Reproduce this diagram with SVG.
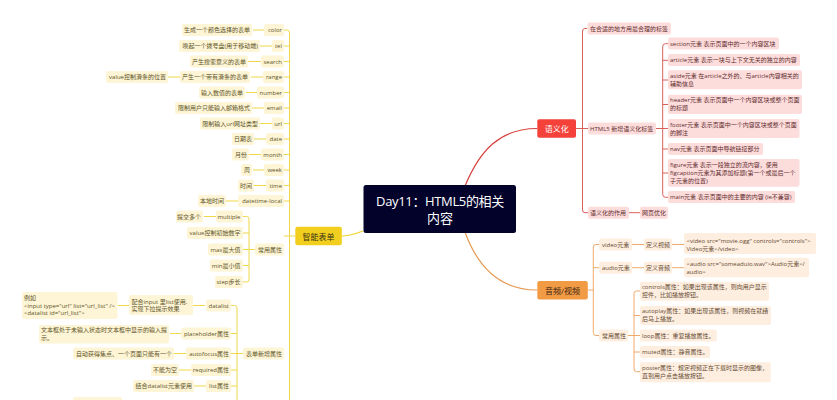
<svg xmlns="http://www.w3.org/2000/svg" width="837" height="400" viewBox="0 0 837 400">
<style>
text{font-family:"Open Sans","Noto Sans CJK SC",sans-serif;font-size:6px;dominant-baseline:central}
.e{text-anchor:end}
.c{text-anchor:middle}
.y rect{fill:#fdf5d6}.y text{fill:#5e5426}
.r rect{fill:#fddcdc}.r text{fill:#5e2c2c}
.o rect{fill:#fdeee0}.o text{fill:#664a30}
.lines path{fill:none;stroke-width:1}
.ly path{stroke:#f0d84a}.lr path{stroke:#d9605a}.lo path{stroke:#eeaa6c}
.m text{font-size:8px}
</style>
<g class="lines">
<path d="M465 186C480 150 500 128.500 537 128.500" style="stroke:#d8403c;stroke-width:1.2"/>
<path d="M465 232C478 268 500 290 537 290" style="stroke:#e69a52;stroke-width:1.2"/>
<path d="M363 231C355 234 349 236 342 236" style="stroke:#f0d22a;stroke-width:1.2"/>
<g class="ly">
<path d="M284 30H287Q289.500 30 289.500 32.500V400M295 236H284M284 46H289M284 61.500H289M284 77H289M284 92.500H289M284 108H289M284 123.500H289M284 139H289M284 154.500H289M284 170H289M284 185.500H289M284 201H289"/>
<path d="M253 30H264M260 46H272M248 61.500H261M251 77H263M168 77H180M246 92.500H257M252 108H264M260 123.500H272M254 139H266M249 154.500H261M253 170H264M254 185.500H266M226 201H238"/>
<path d="M243 216.500H246.500Q249 216.500 249 219V279.500Q249 282 246.500 282H243M243 233H249M243 249.500H255M243 265.500H249M204 216.500H216"/>
<path d="M231 305.500H234.500Q237 305.500 237 308V400M231 333.500H237M231 353.500H243M231 370H237M231 386H237M193 305.500H205M118 305.500H129M170 333.500H181M174 353.500H186M179 370H191M194 386H206"/>
</g>
<g class="lr">
<path d="M576 128.500H588M587 28.500H585Q582.500 28.500 582.500 31V210Q582.500 212.700 585 212.700H588M629 212.700H640"/>
<path d="M656 128.500H668M668 43.700H665.500Q662.700 43.700 662.700 46.500V194.500Q662.700 197.300 665.500 197.300H668M662.700 60.300H668M662.700 80H668M662.700 104.500H668M662.700 149H668M662.700 173H668"/>
</g>
<g class="lo">
<path d="M588 290H593.300M599 244.500H596Q593.300 244.500 593.300 247V332.500Q593.300 335.500 596 335.500H599M593.300 267.700H599M632 244.500H644M632 267.700H644M672 244.500H684M672 267.700H684"/>
<path d="M628 335.500H640M640 291H636.500Q634 291 634 293.500V369Q634 371.700 636.500 371.700H640M634 315.500H640M634 352H640"/>
</g>
</g>
<g id="root"><rect x="363.500" y="185" width="152.500" height="48" rx="2.500" fill="#02022b"/><text class="c" x="440" y="200.500" fill="#fff" style="font-size:13px;letter-spacing:-.35px">Day11：HTML5的相关</text><text class="c" x="440" y="218.300" fill="#fff" style="font-size:13px">内容</text></g>
<g id="main-form" class="m"><rect x="295.300" y="226.700" width="46.500" height="18.500" rx="2" fill="#f2cf1f"/><text class="c" x="318.500" y="236" fill="#3a3210">智能表单</text></g>
<g id="main-sem" class="m"><rect x="537.300" y="119.300" width="38.700" height="18.500" rx="2" fill="#f4423b"/><text class="c" x="556.700" y="128.500" fill="#fff">语义化</text></g>
<g id="main-av" class="m"><rect x="537.300" y="281" width="50.500" height="18.500" rx="2" fill="#f29b45"/><text class="c" x="562.500" y="290" fill="#3a2410">音频/视频</text></g>
<g class="y">
<g id="color"><rect x="264" y="24" width="20" height="12" rx="2"/><text class="e" x="282" y="30">color</text></g>
<g id="color-d"><rect x="182" y="24" width="70" height="12" rx="2"/><text class="e" x="250" y="30">生成一个颜色选择的表单</text></g>
<g id="tel"><rect x="272" y="40" width="12" height="12" rx="2"/><text class="e" x="282" y="46">tel</text></g>
<g id="tel-d"><rect x="179" y="40" width="81" height="12" rx="2"/><text class="e" x="258" y="46">唤起一个拨号盘(用于移动端)</text></g>
<g id="search"><rect x="261" y="55.500" width="23" height="12" rx="2"/><text class="e" x="282" y="61.500">search</text></g>
<g id="search-d"><rect x="190" y="55.500" width="58" height="12" rx="2"/><text class="e" x="246" y="61.500">产生搜索意义的表单</text></g>
<g id="range"><rect x="263" y="71" width="21" height="12" rx="2"/><text class="e" x="282" y="77">range</text></g>
<g id="range-d"><rect x="180" y="71" width="70" height="12" rx="2"/><text class="e" x="248" y="77">产生一个带有滑条的表单</text></g>
<g id="range-v"><rect x="106" y="71" width="62" height="12" rx="2"/><text class="e" x="166" y="77">value控制滑条的位置</text></g>
<g id="number"><rect x="257" y="86.500" width="27" height="12" rx="2"/><text class="e" x="282" y="92.500">number</text></g>
<g id="number-d"><rect x="199" y="86.500" width="46" height="12" rx="2"/><text class="e" x="243" y="92.500">输入数值的表单</text></g>
<g id="email"><rect x="264" y="102" width="20" height="12" rx="2"/><text class="e" x="282" y="108">email</text></g>
<g id="email-d"><rect x="175" y="102" width="77" height="12" rx="2"/><text class="e" x="250" y="108">限制用户只能输入邮箱格式</text></g>
<g id="url"><rect x="272" y="117.500" width="12" height="12" rx="2"/><text class="e" x="282" y="123.500">url</text></g>
<g id="url-d"><rect x="200" y="117.500" width="60" height="12" rx="2"/><text class="e" x="258" y="123.500">限制输入url网址类型</text></g>
<g id="date"><rect x="266" y="133" width="18" height="12" rx="2"/><text class="e" x="282" y="139">date</text></g>
<g id="date-d"><rect x="232" y="133" width="22" height="12" rx="2"/><text class="e" x="252" y="139">日期表</text></g>
<g id="month"><rect x="261" y="148.500" width="23" height="12" rx="2"/><text class="e" x="282" y="154.500">month</text></g>
<g id="month-d"><rect x="232" y="148.500" width="17" height="12" rx="2"/><text class="e" x="247" y="154.500">月份</text></g>
<g id="week"><rect x="264" y="164" width="20" height="12" rx="2"/><text class="e" x="282" y="170">week</text></g>
<g id="week-d"><rect x="241" y="164" width="11" height="12" rx="2"/><text class="e" x="250" y="170">周</text></g>
<g id="time"><rect x="266" y="179.500" width="18" height="12" rx="2"/><text class="e" x="282" y="185.500">time</text></g>
<g id="time-d"><rect x="238" y="179.500" width="16" height="12" rx="2"/><text class="e" x="252" y="185.500">时间</text></g>
<g id="dtl"><rect x="238" y="195" width="46" height="12" rx="2"/><text class="e" x="282" y="201">datetime-local</text></g>
<g id="dtl-d"><rect x="198" y="195" width="28" height="12" rx="2"/><text class="e" x="224" y="201">本地时间</text></g>
<g id="common"><rect x="255" y="243.500" width="29" height="12" rx="2"/><text class="e" x="282" y="249.500">常用属性</text></g>
<g id="multiple"><rect x="216" y="210.500" width="27" height="12" rx="2"/><text class="e" x="240.500" y="216.500">multiple</text></g>
<g id="multiple-d"><rect x="176" y="210.500" width="27" height="12" rx="2"/><text class="e" x="201" y="216.500">提交多个</text></g>
<g id="value"><rect x="187" y="227" width="56" height="12" rx="2"/><text class="e" x="240.500" y="233">value控制初始数字</text></g>
<g id="max"><rect x="208" y="243.500" width="35" height="12" rx="2"/><text class="e" x="240.500" y="249.500">max最大值</text></g>
<g id="min"><rect x="210" y="259.500" width="33" height="12" rx="2"/><text class="e" x="240.500" y="265.500">min最小值</text></g>
<g id="step"><rect x="215" y="276" width="28" height="12" rx="2"/><text class="e" x="240.500" y="282">step步长</text></g>
<g id="newattr"><rect x="243" y="347.500" width="41" height="12" rx="2"/><text class="e" x="282" y="353.500">表单新增属性</text></g>
<g id="datalist"><rect x="206" y="299.500" width="25" height="12" rx="2"/><text class="e" x="229" y="305.500">datalist</text></g>
<g id="datalist-d"><rect x="129" y="295" width="64" height="20" rx="2"/><text x="131.500" y="301.500">配合input 里list使用,</text><text x="131.500" y="309">实现下拉提示效果</text></g>
<g id="datalist-e"><rect x="22" y="292" width="95.500" height="27" rx="2"/><text x="24" y="297.500">例如</text><text x="24" y="305.500">&lt;input type="url" list="url_list" /&gt;</text><text x="24" y="313">&lt;datalist id="url_list"&gt;</text></g>
<g id="placeholder"><rect x="181" y="327.500" width="50" height="12" rx="2"/><text class="e" x="229" y="333.500">placeholder属性</text></g>
<g id="placeholder-d"><rect x="39" y="325" width="130" height="18.500" rx="2"/><text x="41" y="329.500">文本框处于未输入状态时文本框中显示的输入提</text><text x="41" y="337.500">示。</text></g>
<g id="autofocus"><rect x="186" y="347.500" width="45" height="12" rx="2"/><text class="e" x="229" y="353.500">autofocus属性</text></g>
<g id="autofocus-d"><rect x="73" y="347.500" width="101" height="12" rx="2"/><text class="e" x="172" y="353.500">自动获得焦点、一个页面只能有一个</text></g>
<g id="required"><rect x="191" y="364" width="40" height="12" rx="2"/><text class="e" x="229" y="370">required属性</text></g>
<g id="required-d"><rect x="151" y="364" width="28" height="12" rx="2"/><text class="e" x="177" y="370">不能为空</text></g>
<g id="list"><rect x="206" y="380" width="25" height="12" rx="2"/><text class="e" x="229" y="386">list属性</text></g>
<g id="list-d"><rect x="133" y="380" width="61" height="12" rx="2"/><text class="e" x="192" y="386">结合datalist元素使用</text></g>
<g id="clipped"><rect x="73" y="397" width="49" height="6" rx="2"/></g>
</g>
<g class="r">
<g id="s1"><rect x="587.500" y="22.500" width="83.500" height="12" rx="2"/><text x="590" y="28.500">在合适的地方用最合理的标签</text></g>
<g id="s2"><rect x="588" y="122.500" width="68" height="12" rx="2"/><text x="590" y="128.500">HTML5 新增语义化标签</text></g>
<g id="s3"><rect x="668" y="37.500" width="111" height="12" rx="2"/><text x="670" y="43.700">section元素 表示页面中的一个内容区块</text></g>
<g id="s4"><rect x="668" y="54" width="132" height="12" rx="2"/><text x="670" y="60.300">article元素 表示一块与上下文无关的独立的内容</text></g>
<g id="s5"><rect x="668" y="70.300" width="134" height="19" rx="2"/><text x="670" y="76.300">aside元素 在article之外的、与article内容相关的</text><text x="670" y="84.300">辅助信息</text></g>
<g id="s6"><rect x="668" y="94.700" width="134" height="19.300" rx="2"/><text x="670" y="100.300">header元素 表示页面中一个内容区块或整个页面</text><text x="670" y="108.300">的标题</text></g>
<g id="s7"><rect x="668" y="119" width="131.500" height="19" rx="2"/><text x="670" y="124.700">footer元素 表示页面中一个内容区块或整个页面</text><text x="670" y="132.700">的脚注</text></g>
<g id="s8"><rect x="668" y="143" width="95" height="12" rx="2"/><text x="670" y="149">nav元素 表示页面中导航链接部分</text></g>
<g id="s9"><rect x="668" y="159" width="131.500" height="27.700" rx="2"/><text x="670" y="165">figure元素 表示一段独立的流内容，使用</text><text x="670" y="173">figcaption元素为其添加标题(第一个或最后一个</text><text x="670" y="181">子元素的位置)</text></g>
<g id="s10"><rect x="668" y="191" width="127" height="12" rx="2"/><text x="670" y="197.300">main元素 表示页面中的主要的内容 (ie不兼容)</text></g>
<g id="s11"><rect x="588" y="206.700" width="41" height="12" rx="2"/><text x="590" y="212.700">语义化的作用</text></g>
<g id="s12"><rect x="640" y="206.700" width="28" height="12" rx="2"/><text x="642" y="212.700">网页优化</text></g>
</g>
<g class="o">
<g id="v1"><rect x="599" y="238.500" width="33" height="12" rx="2"/><text x="602" y="244.500">video元素</text></g>
<g id="v2"><rect x="644" y="238.500" width="28" height="12" rx="2"/><text x="646" y="244.500">定义视频</text></g>
<g id="v3"><rect x="684" y="233" width="132" height="21" rx="2"/><text x="686.500" y="240.700">&lt;video src="movie.ogg" controls="controls"&gt;</text><text x="686.500" y="248.500">Video元素&lt;/video&gt;</text></g>
<g id="a1"><rect x="599" y="261.700" width="33" height="12" rx="2"/><text x="602" y="267.700">audio元素</text></g>
<g id="a2"><rect x="644" y="261.700" width="28" height="12" rx="2"/><text x="646" y="267.700">定义音频</text></g>
<g id="a3"><rect x="684" y="257.700" width="125" height="19.600" rx="2"/><text x="686.500" y="264">&lt;audio src="someaduio.wav"&gt;Audio元素&lt;/</text><text x="686.500" y="272">audio&gt;</text></g>
<g id="c0"><rect x="599" y="329.500" width="29" height="12" rx="2"/><text x="602" y="335.500">常用属性</text></g>
<g id="c1"><rect x="640" y="281.700" width="129" height="19" rx="2"/><text x="642" y="287">controls属性：如果出现该属性，则向用户显示</text><text x="642" y="295">控件，比如播放按钮。</text></g>
<g id="c2"><rect x="640" y="306" width="131" height="19" rx="2"/><text x="642" y="311">autoplay属性：如果出现该属性，则视频在就绪</text><text x="642" y="319">后马上播放。</text></g>
<g id="c3"><rect x="640" y="329.500" width="76.700" height="12" rx="2"/><text x="642" y="335.500">loop属性：重复播放属性。</text></g>
<g id="c4"><rect x="640" y="346" width="70" height="12" rx="2"/><text x="642" y="352">muted属性：静音属性。</text></g>
<g id="c5"><rect x="640" y="362.300" width="130.700" height="20" rx="2"/><text x="642" y="368">poster属性：规定视频正在下载时显示的图像，</text><text x="642" y="376">直到用户点击播放按钮。</text></g>
</g>
</svg>
